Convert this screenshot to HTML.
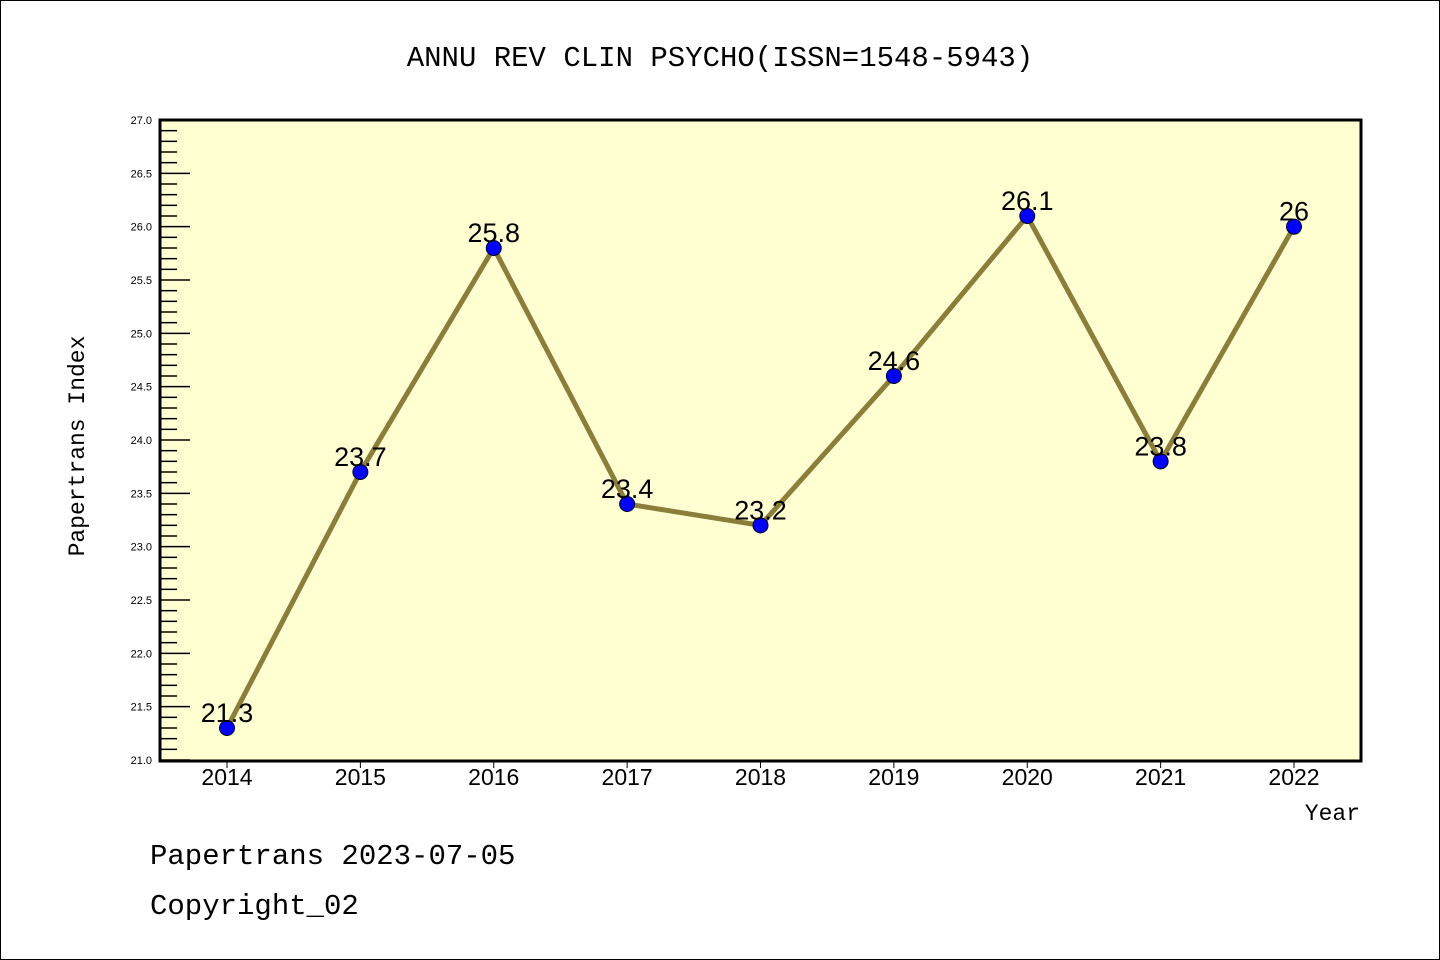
<!DOCTYPE html>
<html><head><meta charset="utf-8"><style>
body{margin:0;background:#fff;}
svg{display:block;font-family:"Liberation Mono","DejaVu Sans Mono",monospace;}
</style></head><body>
<svg id="c" width="1440" height="960">
<rect x="0.5" y="0.5" width="1439" height="959" fill="#fff" stroke="#000"/>
<text x="720" y="66" font-size="29" text-anchor="middle">ANNU REV CLIN PSYCHO(ISSN=1548-5943)</text>
<rect x="160" y="120" width="1201" height="641" fill="#ffffd2" stroke="#000" stroke-width="3"/>
<g id="yt"></g><g id="xt"></g><g id="series"></g>
<text transform="translate(84,446) rotate(-90)" font-size="23" text-anchor="middle">Papertrans Index</text>
<text x="1360" y="820" font-size="23" text-anchor="end">Year</text>
<text x="150" y="864" font-size="29">Papertrans 2023-07-05</text>
<text x="150" y="914" font-size="29">Copyright_02</text>
</svg>
<script>
const years=[2014,2015,2016,2017,2018,2019,2020,2021,2022];
const values=[21.3,23.7,25.8,23.4,23.2,24.6,26.1,23.8,26];
const labels=["21.3","23.7","25.8","23.4","23.2","24.6","26.1","23.8","26"];
const yTicks=["21.0","21.5","22.0","22.5","23.0","23.5","24.0","24.5","25.0","25.5","26.0","26.5","27.0"];
const NS="http://www.w3.org/2000/svg";
const yMin=21,yMax=27,plotTop=120,plotBot=760;
const ys=v=>plotBot-(v-yMin)/(yMax-yMin)*(plotBot-plotTop);
const xs=i=>227+i*(1294-227)/(years.length-1);
function mk(t,a,p){const e=document.createElementNS(NS,t);for(const k in a)e.setAttribute(k,a[k]);(p||document.getElementById('c')).appendChild(e);return e;}
const yt=document.getElementById('yt');
for(let k=0;k<=60;k++){const v=yMin+k*0.1;const y=ys(v);const maj=k%5===0;
const l=mk('line',{x1:161,x2:maj?190:177,y1:y,y2:y,stroke:'#000','stroke-width':1.5},yt);

}
yTicks.forEach(s=>{const t=mk('text',{x:152,y:ys(parseFloat(s))+4,'font-size':11,'text-anchor':'end','font-family':'Liberation Sans, sans-serif'},yt);t.textContent=s;

});
const xt=document.getElementById('xt');
years.forEach((yr,i)=>{const l=mk('line',{x1:xs(i),x2:xs(i),y1:762,y2:768,stroke:'#000'},xt);


const t=mk('text',{x:xs(i),y:785,'font-size':23,'text-anchor':'middle','font-family':'Liberation Sans, sans-serif'},xt);t.textContent=yr;

});
const g=document.getElementById('series');
const pl=mk('polyline',{points:values.map((v,i)=>xs(i)+','+ys(v)).join(' '),fill:'none',stroke:'#8b7d3a','stroke-width':5},g);


values.forEach((v,i)=>{const c=mk('circle',{cx:xs(i),cy:ys(v),r:7.5,fill:'#0000ff',stroke:'#000020','stroke-width':1},g);


const t=mk('text',{x:xs(i),y:ys(v)-6,'font-size':27,'text-anchor':'middle','font-family':'Liberation Sans, sans-serif'},g);t.textContent=labels[i];

});
</script>
</body></html>
